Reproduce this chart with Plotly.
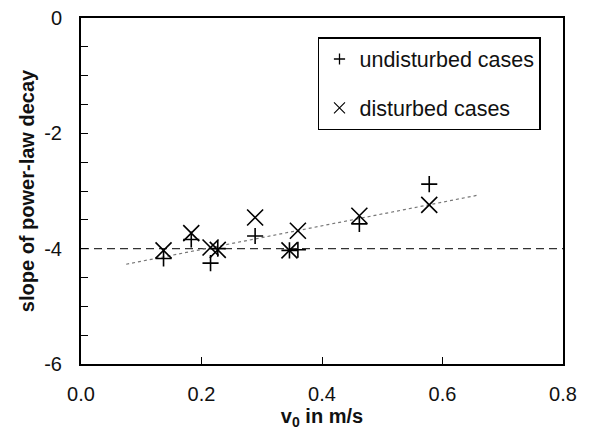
import plotly.graph_objects as go

# v0 in m/s for each case
v0 = [0.137, 0.183, 0.215, 0.227, 0.289, 0.346, 0.360, 0.462, 0.578]
slope_undisturbed = [-4.17, -3.84, -4.25, -4.00, -3.78, -4.03, -4.02, -3.57, -2.88]
slope_disturbed = [-4.03, -3.73, -3.98, -4.02, -3.46, -4.03, -3.69, -3.43, -3.24]

trend_x = [0.075, 0.660]
trend_y = [-4.27, -3.07]

ref_x = [0.0, 0.8]
ref_y = [-4.0, -4.0]

x_ticks = [0.0, 0.2, 0.4, 0.6, 0.8]
x_ticktext = ["0.0", "0.2", "0.4", "0.6", "0.8"]
y_ticks = [0, -2, -4, -6]
y_ticktext = ["0", "-2", "-4", "-6"]

FONT = "Arial, Liberation Sans, Helvetica, sans-serif"

fig = go.Figure()

fig.add_trace(go.Scatter(x=ref_x, y=ref_y, mode="lines",
                         line=dict(color="#333333", width=1.3, dash="8px,5px"),
                         showlegend=False, hoverinfo="skip"))
fig.add_trace(go.Scatter(x=trend_x, y=trend_y, mode="lines",
                         line=dict(color="#777777", width=1.2, dash="dot"),
                         showlegend=False, hoverinfo="skip"))

fig.add_trace(go.Scatter(x=v0, y=slope_undisturbed, mode="markers", name="undisturbed cases",
                         marker=dict(symbol="cross-thin", size=11.5, color="black",
                                     line=dict(color="black", width=1.6)),
                         showlegend=False))
fig.add_trace(go.Scatter(x=v0, y=slope_disturbed, mode="markers", name="disturbed cases",
                         marker=dict(symbol="x-thin", size=16, color="black",
                                     line=dict(color="black", width=1.6)),
                         showlegend=False))

# legend entries
fig.add_trace(go.Scatter(x=[None], y=[None], mode="markers", name="undisturbed cases",
                         legendgroup="a",
                         marker=dict(symbol="cross-thin", size=8, color="black",
                                     line=dict(color="black", width=1.3))))
fig.add_trace(go.Scatter(x=[None], y=[None], mode="markers", name="disturbed cases",
                         legendgroup="b",
                         marker=dict(symbol="x-thin", size=11, color="black",
                                     line=dict(color="black", width=1.1))))

fig.update_layout(
    width=590, height=438,
    margin=dict(l=73, r=35, t=10, b=82, autoexpand=False),
    paper_bgcolor="white", plot_bgcolor="white",
    font=dict(family=FONT, size=20, color="#111111"),
    showlegend=True,
    legend=dict(x=0.4917, y=0.945, xanchor="left", yanchor="top",
                bordercolor="black", borderwidth=1.5, bgcolor="white",
                font=dict(size=21.5), tracegroupgap=18, itemsizing="trace",
                entrywidth=195),
    xaxis=dict(range=[0, 0.8], tickvals=x_ticks, ticktext=x_ticktext, automargin=False,
               showline=True, linecolor="black", linewidth=2, mirror=True,
               ticks="inside", ticklen=7, tickwidth=1.3, tickcolor="black",
               ticklabelstandoff=11, ticklabeloverflow="allow",
               showgrid=False, zeroline=False,
               title=dict(text="<b>v<sub>0</sub> in m/s</b>", font=dict(size=20), standoff=0)),
    yaxis=dict(range=[-6, 0], tickvals=y_ticks, ticktext=y_ticktext, automargin=False,
               showline=True, linecolor="black", linewidth=2, mirror=True,
               ticks="inside", ticklen=7, tickwidth=1.3, tickcolor="black",
               ticklabelstandoff=13, ticklabeloverflow="allow",
               minor=dict(dtick=0.5, ticks="inside", ticklen=7, tickwidth=1.3, tickcolor="black"),
               showgrid=False, zeroline=False,
               title=dict(text="<b>slope of power-law decay</b>", font=dict(size=20), standoff=4)),
)

fig.write_html("out.html")
